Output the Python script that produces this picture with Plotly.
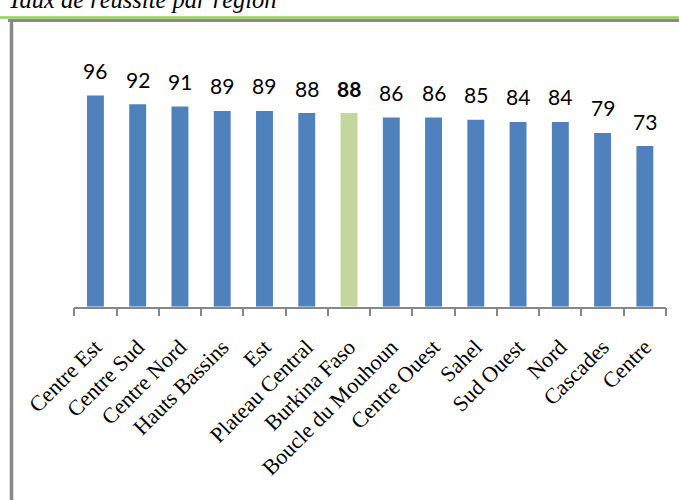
import plotly.graph_objects as go

categories = ["Centre Est", "Centre Sud", "Centre Nord", "Hauts Bassins", "Est",
              "Plateau Central", "Burkina Faso", "Boucle du Mouhoun", "Centre Ouest",
              "Sahel", "Sud Ouest", "Nord", "Cascades", "Centre"]
values = [96, 92, 91, 89, 89, 88, 88, 86, 86, 85, 84, 84, 79, 73]
highlight = "Burkina Faso"
title_text = "Taux de réussite par région"

W, H = 679, 500
x0, x1 = 74.3, 666.0
y_base, y_top = 306.7, 42.7

colors = ["#C3D69B" if c == highlight else "#4F81BD" for c in categories]

fig = go.Figure()
fig.add_trace(go.Bar(x=categories, y=values, marker=dict(color=colors, line=dict(width=0)),
                     width=0.40, hoverinfo="skip"))

for c, v in zip(categories, values):
    fig.add_annotation(x=c, y=v, xref="x", yref="y",
                       text=f"<b>{v}</b>" if c == highlight else str(v),
                       showarrow=False, yanchor="middle", yshift=25,
                       font=dict(family="Lato", size=21, color="#000000"))

# title (partly cut off at the top, as in the original)
fig.add_annotation(x=6 / W, y=1 - 15 / H, xref="paper", yref="paper", xanchor="left",
                   yanchor="bottom", text=f"<i>{title_text}</i>", showarrow=False,
                   font=dict(family="Liberation Serif", size=24.5, color="#000000"))

# green rule and grey chart frame
fig.add_shape(type="line", xref="paper", yref="paper", x0=0, x1=1,
              y0=1 - 17.5 / H, y1=1 - 17.5 / H, line=dict(color="#92D050", width=2.5))
fig.add_shape(type="line", xref="paper", yref="paper", x0=8 / W, x1=1,
              y0=1 - 20.5 / H, y1=1 - 20.5 / H, line=dict(color="#898989", width=3))
fig.add_shape(type="line", xref="paper", yref="paper", x0=11.5 / W, x1=11.5 / W,
              y0=0, y1=1 - 19 / H, line=dict(color="#898989", width=3.5))

fig.update_layout(
    width=W, height=H, margin=dict(l=0, r=0, t=0, b=0, autoexpand=False),
    paper_bgcolor="white", plot_bgcolor="white", showlegend=False,
    xaxis=dict(domain=[x0 / W, x1 / W], type="category", tickangle=-45, automargin=False,
               tickson="boundaries", ticks="outside", ticklen=8, tickwidth=1.5,
               tickcolor="#878787", showline=True, linecolor="#878787", linewidth=1.5,
               ticklabelstandoff=17,
               tickfont=dict(family="Liberation Serif", size=22, color="#000000"),
               showgrid=False, zeroline=False),
    yaxis=dict(domain=[1 - y_base / H, 1 - y_top / H], range=[0, 120], visible=False,
               automargin=False, showgrid=False, zeroline=False),
)

fig.write_html("out.html", config={"displayModeBar": False},
               post_script="document.body.style.margin='0';document.body.style.overflow='hidden';")
